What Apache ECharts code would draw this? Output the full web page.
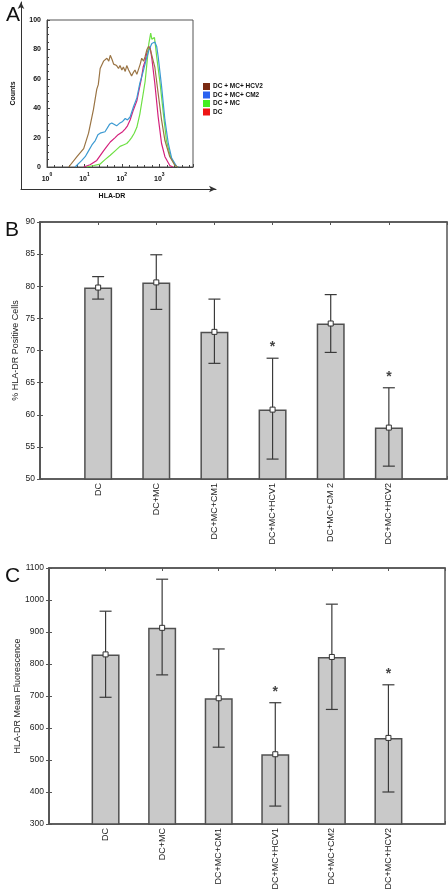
<!DOCTYPE html>
<html>
<head>
<meta charset="utf-8">
<script src="https://cdn.jsdelivr.net/npm/echarts@6/dist/echarts.min.js"></script>
<style>
html,body{margin:0;padding:0;background:#fff;}
#chart{width:448px;height:890px;}
</style>
</head>
<body>
<div id="chart"></div>
<script>
// ---------- Panel A: histograms (x = log10 HLA-DR intensity, y = counts) ----------
const histNames = ['DC + MC+ HCV2', 'DC + MC+ CM2', 'DC + MC', 'DC'];
const histHCV2 = [[0.58,0],[0.8,7],[0.98,12.5],[1.11,23],[1.24,39],[1.33,53],[1.37,56],[1.42,67],[1.51,72],[1.6,74],[1.65,72],[1.69,76],[1.74,73],[1.78,70],[1.86,69],[1.91,67],[1.95,69],[2.0,66],[2.04,68],[2.09,65],[2.13,69],[2.18,66],[2.26,62],[2.3,64],[2.35,66],[2.4,63],[2.44,64],[2.49,70],[2.53,74],[2.58,72],[2.62,75],[2.67,80],[2.71,82],[2.76,80],[2.8,76],[2.88,68],[2.97,50],[3.06,32],[3.15,18],[3.28,7],[3.42,1],[3.5,0]];
const histCM2 = [[0.75,0],[0.93,4.5],[1.02,7],[1.11,11],[1.2,15],[1.29,18],[1.36,22],[1.42,23],[1.47,22],[1.55,24],[1.6,25],[1.67,29],[1.73,30],[1.78,31],[1.86,28],[1.95,30],[2.02,31],[2.09,33],[2.15,32],[2.22,34],[2.31,41],[2.4,47],[2.44,52],[2.48,57],[2.57,65],[2.66,74],[2.73,80],[2.8,84],[2.84,83],[2.88,85],[2.93,82],[2.97,75],[3.06,55],[3.15,32],[3.24,16],[3.33,6],[3.46,0.5],[3.52,0]];
const histMC = [[1.06,0],[1.25,1],[1.42,2],[1.55,5],[1.69,8],[1.82,11],[1.95,14],[2.04,15],[2.13,16],[2.2,18],[2.26,20],[2.33,23],[2.4,27],[2.48,36],[2.57,50],[2.62,58],[2.66,68],[2.72,84],[2.77,91],[2.8,87],[2.82,88],[2.87,88],[2.9,82],[2.93,75],[3.02,57],[3.11,36],[3.19,18],[3.3,7],[3.42,1],[3.5,0]];
const histDC = [[0.98,0],[1.15,1.5],[1.33,4.5],[1.51,11],[1.6,14],[1.69,17],[1.82,20],[1.9,22],[1.95,23],[2.02,24],[2.09,26],[2.15,28],[2.22,32],[2.31,39],[2.4,45],[2.44,50],[2.48,55],[2.52,60],[2.57,68],[2.62,72],[2.66,77],[2.71,80],[2.75,82],[2.8,74],[2.88,57],[2.97,34],[3.06,16],[3.15,7],[3.28,1],[3.36,0]];
const histData = [histHCV2, histCM2, histMC, histDC];
const lineColors = ['#9a7444', '#3c9ad2', '#6ee044', '#d4207c'];
const legendColors = ['#7a2a12', '#2a62f0', '#44ee22', '#ee1414'];
const countTicks = [0, 20, 40, 60, 80, 100];
const decadeLabels = ['0', '1', '2', '3'];

// ---------- Panel B: % HLA-DR positive cells ----------
const groupsB = ['DC', 'DC+MC', 'DC+MC+CM1', 'DC+MC+HCV1', 'DC+MC+CM 2', 'DC+MC+HCV2'];
const meanB = [79.8, 80.6, 72.9, 60.8, 74.2, 58.0];
const upperB = [81.5, 84.9, 78.0, 68.8, 78.7, 64.2];
const lowerB = [78.0, 76.4, 68.0, 53.1, 69.7, 52.0];
const sigB = [false, false, false, true, false, true];

// ---------- Panel C: HLA-DR mean fluorescence ----------
const groupsC = ['DC', 'DC+MC', 'DC+MC+CM1', 'DC+MC+HCV1', 'DC+MC+CM2', 'DC+MC+HCV2'];
const meanC = [830, 913, 693, 518, 822, 569];
const upperC = [965, 1065, 847, 679, 987, 735];
const lowerC = [696, 766, 540, 356, 658, 400];
const sigC = [false, false, false, true, false, true];

const FONT = 'Liberation Sans, Arial, sans-serif';
const AX = '#555';

function errRender(params, api) {
  const x = api.value(0);
  const top = api.coord([x, api.value(1)]);
  const bot = api.coord([x, api.value(2)]);
  const w = 6;
  const st = { stroke: '#3a3a3a', lineWidth: 1.2 };
  return { type: 'group', children: [
    { type: 'line', shape: { x1: top[0], y1: top[1], x2: bot[0], y2: bot[1] }, style: st },
    { type: 'line', shape: { x1: top[0] - w, y1: top[1], x2: top[0] + w, y2: top[1] }, style: st },
    { type: 'line', shape: { x1: bot[0] - w, y1: bot[1], x2: bot[0] + w, y2: bot[1] }, style: st }
  ]};
}
function starRender(params, api) {
  const p = api.coord([api.value(0), api.value(1)]);
  return { type: 'text', x: p[0], y: p[1] - 11,
    style: { text: '*', fontSize: 14, fontFamily: FONT, fontWeight: 'bold', fill: '#444', align: 'center', verticalAlign: 'middle' } };
}

function barPanel(groups, mean, upper, lower, sig, xi, yi, barW) {
  return [
    { type: 'bar', xAxisIndex: xi, yAxisIndex: yi, barWidth: barW,
      data: mean.map((v, i) => [i + 1, v]),
      itemStyle: { color: '#c9c9c9', borderColor: '#505050', borderWidth: 1.5 }, z: 2, silent: true },
    { type: 'custom', xAxisIndex: xi, yAxisIndex: yi, renderItem: errRender,
      data: mean.map((v, i) => [i + 1, upper[i], lower[i]]), z: 3, silent: true },
    { type: 'scatter', xAxisIndex: xi, yAxisIndex: yi, symbol: 'rect', symbolSize: 5,
      data: mean.map((v, i) => [i + 1, v]),
      itemStyle: { color: '#fff', borderColor: '#333', borderWidth: 1, opacity: 1 }, z: 4, silent: true },
    { type: 'custom', xAxisIndex: xi, yAxisIndex: yi, renderItem: starRender,
      data: mean.map((v, i) => [i + 1, upper[i], sig[i] ? 1 : 0]).filter(d => d[2] === 1), z: 5, silent: true }
  ];
}

function catAxis(gridIndex, groups, pos) {
  const isTop = pos === 'top';
  return {
    type: 'value', gridIndex: gridIndex, position: pos, min: 0, max: 7, interval: 1,
    axisLine: { show: true, lineStyle: { color: AX, width: 1.5 } },
    axisTick: { show: true, inside: true, length: 3, lineStyle: { color: AX } },
    splitLine: { show: false },
    axisLabel: isTop ? { show: false } : {
      show: true, rotate: 90, margin: 4, fontSize: 9, fontFamily: FONT, color: '#222',
      formatter: v => groups[v - 1] || ''
    }
  };
}
function valAxis(gridIndex, min, max, interval, pos, name, gap) {
  const isRight = pos === 'right';
  return {
    type: 'value', gridIndex: gridIndex, position: pos, min: min, max: max, interval: interval,
    name: isRight ? '' : name, nameLocation: 'middle', nameGap: gap, nameMoveOverlap: false,
    nameTextStyle: { fontSize: 9, fontFamily: FONT, color: '#222' },
    axisLine: { show: true, lineStyle: { color: AX, width: 1.5 } },
    axisTick: { show: true, inside: true, length: 3, lineStyle: { color: AX } },
    splitLine: { show: false },
    axisLabel: isRight ? { show: false } : { show: true, margin: 5, fontSize: 8.5, fontFamily: FONT, color: '#222', formatter: v => String(v) }
  };
}

const chart = echarts.init(document.getElementById('chart'), null, { renderer: 'canvas' });

const option = {
  animation: false,
  backgroundColor: '#fff',
  title: [
    { text: 'A', left: 1, top: 0, textStyle: { fontSize: 21, fontWeight: 'normal', fontFamily: FONT, color: '#111' } },
    { text: 'B', left: 0, top: 215, textStyle: { fontSize: 21, fontWeight: 'normal', fontFamily: FONT, color: '#111' } },
    { text: 'C', left: 0, top: 561, textStyle: { fontSize: 21, fontWeight: 'normal', fontFamily: FONT, color: '#111' } }
  ],
  legend: {
    orient: 'vertical', left: 198, top: 78, itemWidth: 7, itemHeight: 7, itemGap: 1.5,
    icon: 'rect',
    textStyle: { fontSize: 6.5, fontWeight: 'bold', fontFamily: FONT, color: '#111', padding: [0, 0, 0, -2] },
    data: histNames.map((n, i) => ({ name: n, itemStyle: { color: legendColors[i] } }))
  },
  grid: [
    { left: 47, top: 20, width: 146, height: 147, show: true, borderColor: '#555', borderWidth: 1, containLabel: false, outerBoundsMode: 'none' },
    { left: 40, top: 222, width: 407, height: 257, show: true, borderColor: AX, borderWidth: 1.5, containLabel: false, outerBoundsMode: 'none' },
    { left: 49, top: 568, width: 396, height: 256, show: true, borderColor: AX, borderWidth: 1.5, containLabel: false, outerBoundsMode: 'none' },
    { left: 21, top: 2, width: 195, height: 187, containLabel: false, outerBoundsMode: 'none' }
  ],
  xAxis: [
    { type: 'value', gridIndex: 0, min: 0, max: 3.9, interval: 1,
      name: 'HLA-DR', nameLocation: 'middle', nameGap: 26, nameMoveOverlap: false,
      nameTextStyle: { fontSize: 7, fontWeight: 'bold', fontFamily: FONT, color: '#111', padding: [0, 16, 0, 0] },
      axisLine: { show: true, lineStyle: { color: '#444', width: 1 } },
      axisTick: { show: true, inside: true, length: 3, lineStyle: { color: '#444' } },
      minorTick: { show: true, splitNumber: 5, length: 2, lineStyle: { color: '#444' } },
      splitLine: { show: false },
      axisLabel: { show: true, margin: 5, showMaxLabel: false,
        formatter: v => (Math.abs(v - Math.round(v)) < 1e-6 && decadeLabels[Math.round(v)] !== undefined)
          ? '{b|10}{s|' + decadeLabels[Math.round(v)] + '}' : '',
        rich: { b: { fontSize: 7, fontWeight: 'bold', fontFamily: FONT, color: '#111', verticalAlign: 'bottom', lineHeight: 11 },
                s: { fontSize: 5, fontWeight: 'bold', fontFamily: FONT, color: '#111', verticalAlign: 'top', lineHeight: 11 } } } },
    { type: 'value', gridIndex: 3, min: 0, max: 1,
      axisLine: { show: true, symbol: ['none', 'arrow'], symbolSize: [5, 7], lineStyle: { color: '#333', width: 1 } },
      axisTick: { show: false }, axisLabel: { show: false }, splitLine: { show: false } },
    catAxis(1, groupsB, 'bottom'),
    catAxis(1, groupsB, 'top'),
    catAxis(2, groupsC, 'bottom'),
    catAxis(2, groupsC, 'top')
  ],
  yAxis: [
    { type: 'value', gridIndex: 0, min: countTicks[0], max: countTicks[countTicks.length - 1], interval: 20,
      name: 'Counts', nameLocation: 'middle', nameGap: 30, nameMoveOverlap: false,
      nameTextStyle: { fontSize: 7, fontWeight: 'bold', fontFamily: FONT, color: '#111' },
      axisLine: { show: true, lineStyle: { color: '#444', width: 1 } },
      axisTick: { show: true, inside: true, length: 3, lineStyle: { color: '#444' } },
      minorTick: { show: true, splitNumber: 4, length: 2, lineStyle: { color: '#444' } },
      splitLine: { show: false },
      axisLabel: { show: true, margin: 6, fontSize: 7, fontWeight: 'bold', fontFamily: FONT, color: '#111' } },
    { type: 'value', gridIndex: 3, min: 0, max: 1,
      axisLine: { show: true, symbol: ['none', 'arrow'], symbolSize: [5, 7], lineStyle: { color: '#333', width: 1 } },
      axisTick: { show: false }, axisLabel: { show: false }, splitLine: { show: false } },
    valAxis(1, 50, 90, 5, 'left', '% HLA-DR Positive Cells', 20),
    valAxis(1, 50, 90, 5, 'right', '', 0),
    valAxis(2, 300, 1100, 100, 'left', 'HLA-DR Mean Fluorescence', 27),
    valAxis(2, 300, 1100, 100, 'right', '', 0)
  ],
  series: [
    ...histNames.map((n, i) => ({
      name: n, type: 'line', xAxisIndex: 0, yAxisIndex: 0, data: histData[i],
      showSymbol: false, symbol: 'none', smooth: false, silent: true,
      itemStyle: { color: legendColors[i] },
      lineStyle: { color: lineColors[i], width: 1.2 }, z: 10 - i
    })),
    ...barPanel(groupsB, meanB, upperB, lowerB, sigB, 2, 2, 28),
    ...barPanel(groupsC, meanC, upperC, lowerC, sigC, 4, 4, 28)
  ]
};
chart.setOption(option);
</script>
</body>
</html>
